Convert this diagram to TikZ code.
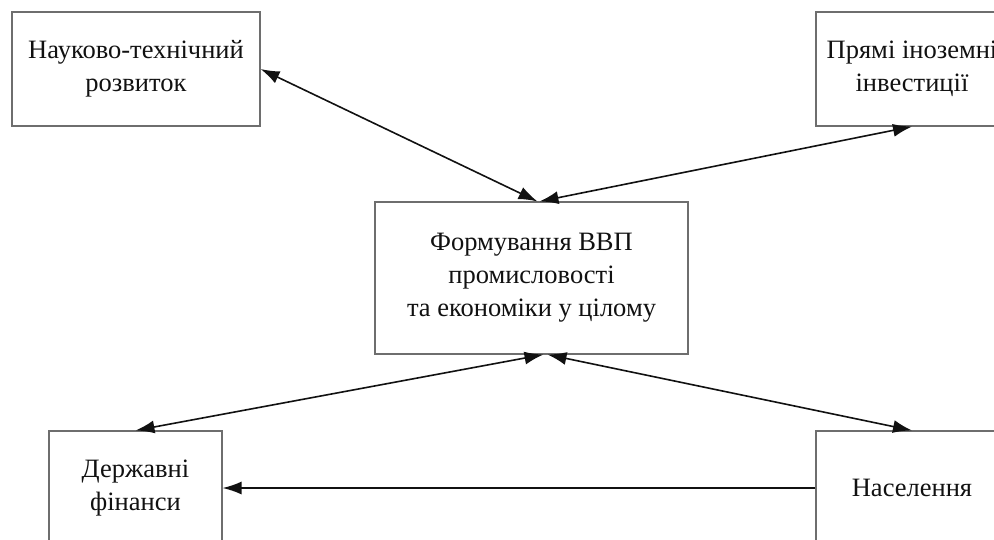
\documentclass[tikz,border=0pt]{standalone}
\usepackage{fontspec}
\setmainfont{Liberation Serif}
\usepackage{xcolor}
\definecolor{boxGray}{HTML}{6E6E6E}
\definecolor{darkText}{HTML}{111111}
\usepackage{tikz}
\usetikzlibrary{
    arrows.meta,
    positioning
}
\tikzset{
    % Base style for all boxes
    factor base/.style={
        font=\fontsize{26.5}{33}\selectfont,
        align=center,
        text=darkText,
        rectangle,
        draw=boxGray,
        line width=1.1pt,
        inner sep=0pt,
    },
    % Small boxes round the centre
    factor/.style={
        factor base,
        minimum height=114pt,
    },
    % Central box
    core/.style={
        factor base,
        minimum width=313pt,
        minimum height=152pt,
    },
    % Two-way link
    link/.style={
        {Latex[length=19pt, width=13pt]}-{Latex[length=19pt, width=13pt]},
        line width=1.6pt,
        draw=darkText,
    },
    % One-way link
    arrow/.style={
        -{Latex[length=19pt, width=13pt]},
        line width=1.6pt,
        draw=darkText,
    },
}

\begin{document}
\begin{tikzpicture}[x=1pt, y=-1pt]
    \useasboundingbox (0,0) rectangle (994,539);

    \node (science) [factor, minimum width=248pt] at (136,69) {Науково-технічний\\розвиток};
    \node (invest) [factor, minimum width=192pt] at (912,69) {Прямі іноземні\\інвестиції};
    \node (gdp) [core] at (531.5,278) {Формування ВВП\\промисловості\\та економіки у цілому};
    \node (finance) [factor, minimum width=173pt] at (135.5,488) {Державні\\фінанси};
    \node (people) [factor, minimum width=192pt] at (912,488) {Населення};

    \draw [link] (science.east) -- ([xshift=6pt]gdp.north);
    \draw [link] (invest.south) -- ([xshift=8pt]gdp.north);
    \draw [link] ([xshift=12pt]gdp.south) -- (finance.north);
    \draw [link] ([xshift=16pt]gdp.south) -- (people.north);
    \draw [arrow] (people.west) -- (finance.east);
\end{tikzpicture}
\end{document}
